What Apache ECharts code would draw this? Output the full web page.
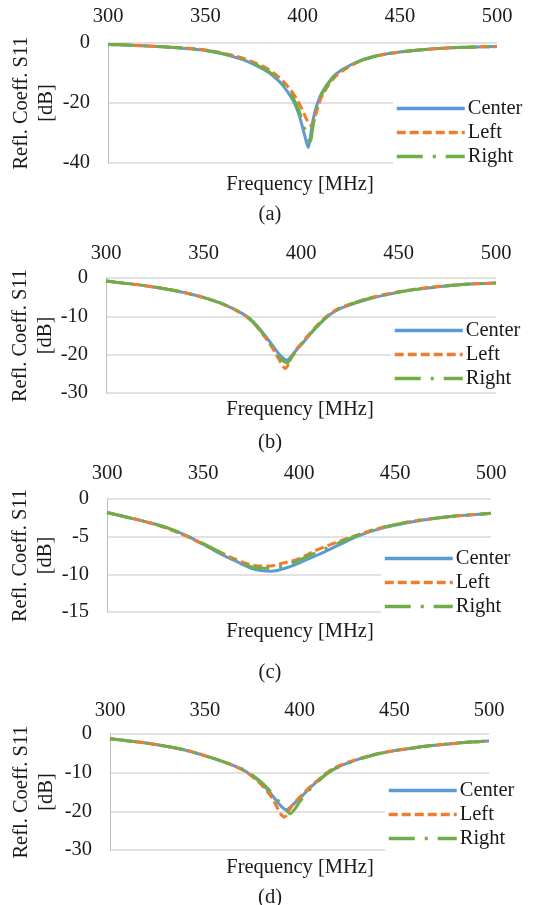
<!DOCTYPE html>
<html>
<head>
<meta charset="utf-8">
<script src="https://cdn.jsdelivr.net/npm/echarts@6/dist/echarts.min.js"></script>
<style>
html,body{margin:0;padding:0;background:#fff;}
#chart{width:541px;height:905px;}
</style>
</head>
<body>
<div id="chart"></div>
<script>
// ---- Data ----
var seriesNames = ['Center', 'Left', 'Right'];
var xTicks = [300, 350, 400, 450, 500];
var panelLabels = ['(a)', '(b)', '(c)', '(d)'];
var xTitle = 'Frequency [MHz]';
var yTitle = 'Refl. Coeff. S11\n[dB]';

// Panel (a)
var freqA = [300,310,320,330,340,350,360,370,380,385,390,395,398,400,402,403,404,405,406,407,408,410,415,420,430,440,450,460,470,480,490,500];
var centerA = [-0.5,-0.7,-1.0,-1.3,-1.8,-2.5,-3.8,-5.7,-8.8,-11.0,-14.2,-19.0,-23.5,-28.0,-33.0,-34.8,-31.5,-27.0,-24.0,-21.5,-19.6,-16.5,-11.8,-9.0,-5.8,-4.0,-3.0,-2.3,-1.8,-1.5,-1.3,-1.2];
var leftA   = [-0.5,-0.7,-1.0,-1.3,-1.7,-2.3,-3.5,-5.2,-7.9,-9.9,-12.7,-16.6,-19.8,-22.4,-25.3,-26.5,-27.3,-27.5,-25.5,-23.5,-21.2,-17.8,-12.6,-9.5,-6.0,-4.1,-3.0,-2.3,-1.8,-1.5,-1.3,-1.2];
var rightA  = [-0.5,-0.7,-1.0,-1.3,-1.8,-2.4,-3.7,-5.5,-8.5,-10.6,-13.7,-18.2,-22.2,-26.2,-30.4,-32.2,-32.8,-29.5,-25.5,-22.6,-20.3,-17.0,-12.0,-9.2,-5.9,-4.0,-3.0,-2.3,-1.8,-1.5,-1.3,-1.2];

// Panel (b)
var freqB = [300,310,320,330,340,350,360,370,375,380,385,388,390,391,392,393,394,396,398,400,405,410,415,420,430,440,450,460,470,480,490,500];
var centerB = [-0.8,-1.4,-2.0,-2.8,-3.8,-5.1,-6.8,-9.3,-11.2,-14.0,-17.3,-19.4,-20.5,-21.0,-21.3,-21.4,-21.0,-19.8,-18.6,-17.5,-14.5,-11.8,-9.5,-8.0,-6.2,-4.8,-3.7,-2.9,-2.3,-1.8,-1.5,-1.3];
var leftB   = [-0.8,-1.4,-2.0,-2.8,-3.8,-5.1,-6.8,-9.4,-11.4,-14.4,-18.0,-20.6,-22.4,-23.2,-23.6,-23.0,-22.0,-19.8,-18.3,-17.2,-14.2,-11.5,-9.3,-7.8,-6.0,-4.6,-3.6,-2.8,-2.2,-1.8,-1.5,-1.3];
var rightB  = [-0.8,-1.4,-2.0,-2.8,-3.8,-5.1,-6.8,-9.3,-11.3,-14.2,-17.6,-19.9,-21.2,-21.7,-22.0,-22.1,-21.6,-20.1,-18.6,-17.4,-14.4,-11.7,-9.4,-7.9,-6.1,-4.7,-3.7,-2.9,-2.3,-1.8,-1.5,-1.3];

// Panel (c)
var freqC = [300,310,320,330,340,350,360,370,375,380,385,390,395,400,410,420,430,440,450,460,470,480,490,500];
var centerC = [-1.8,-2.4,-3.0,-3.7,-4.7,-6.0,-7.4,-8.6,-9.2,-9.5,-9.6,-9.4,-9.0,-8.5,-7.4,-6.2,-5.0,-4.1,-3.5,-3.0,-2.6,-2.3,-2.1,-1.9];
var leftC   = [-1.8,-2.4,-3.0,-3.8,-4.8,-6.0,-7.2,-8.3,-8.7,-8.9,-8.9,-8.6,-8.3,-7.9,-6.7,-5.7,-4.8,-4.0,-3.4,-2.9,-2.6,-2.3,-2.1,-1.9];
var rightC  = [-1.8,-2.4,-3.0,-3.7,-4.7,-5.9,-7.2,-8.5,-9.0,-9.2,-9.2,-9.0,-8.6,-8.1,-7.0,-5.9,-4.9,-4.0,-3.4,-2.9,-2.6,-2.3,-2.1,-1.9];

// Panel (d)
var freqD = [300,310,320,330,340,350,360,370,375,380,385,388,390,391,392,393,394,395,396,398,400,405,410,415,420,430,440,450,460,470,480,490,500];
var centerD = [-1.2,-1.8,-2.4,-3.2,-4.2,-5.6,-7.2,-9.2,-10.8,-12.8,-15.5,-17.4,-18.5,-19.0,-19.4,-19.6,-19.4,-19.0,-18.5,-17.6,-16.8,-14.2,-12.0,-10.0,-8.6,-6.7,-5.3,-4.3,-3.6,-3.0,-2.5,-2.1,-1.8];
var leftD   = [-1.2,-1.8,-2.4,-3.2,-4.2,-5.6,-7.2,-9.3,-11.0,-13.2,-16.2,-18.8,-20.6,-21.2,-21.5,-21.1,-20.2,-19.4,-18.6,-17.4,-16.4,-13.9,-11.8,-9.8,-8.4,-6.6,-5.2,-4.3,-3.6,-3.0,-2.5,-2.1,-1.8];
var rightD  = [-1.2,-1.8,-2.4,-3.2,-4.2,-5.6,-7.2,-9.1,-10.6,-12.5,-15.0,-16.8,-17.9,-18.5,-19.1,-19.7,-20.2,-20.6,-20.3,-19.1,-17.6,-14.6,-12.2,-10.1,-8.7,-6.8,-5.3,-4.3,-3.6,-3.0,-2.5,-2.1,-1.8];

var yMins = [-40, -30, -15, -30];
var yIntervals = [20, 10, 5, 10];

// ---- Build ----
var freqs = [freqA, freqB, freqC, freqD];
var values = [[centerA, leftA, rightA],[centerB, leftB, rightB],[centerC, leftC, rightC],[centerD, leftD, rightD]];
var colors = ['#5B9BD5', '#ED7D31', '#70AD47'];
var dashTypes = ['solid', [9, 4], [26, 10, 3, 10]];
var FONT = '"Liberation Serif", "Times New Roman", serif';
var TXT = '#1a1a1a';
var FS = 20.5;

var grids = [
  {left:108, right:44, top:43, height:120, outerBoundsMode: 'none', containLabel: false},
  {left:106, right:45, top:278, height:115, outerBoundsMode: 'none', containLabel: false},
  {left:107, right:50, top:499, height:113, outerBoundsMode: 'none', containLabel: false},
  {left:110, right:52, top:734, height:116, outerBoundsMode: 'none', containLabel: false}
];
var xLabelMargins = [16, 14, 15, 13];
var yNameGaps = [49, 48, 49, 51];
var legendPos = [
  {left:393, top:96},
  {left:391, top:318},
  {left:381, top:546},
  {left:385, top:778}
];
var xTitleY = [185, 410, 632, 868];
var panelLabelY = [215, 443, 673, 898];

var xAxes = [], yAxes = [], series = [], legends = [], graphics = [];
for (var p = 0; p < 4; p++) {
  xAxes.push({
    gridIndex: p, type: 'value', position: 'top', min: 300, max: 500, interval: 50,
    axisLine: {show: false}, axisTick: {show: false}, splitLine: {show: false},
    axisLabel: {color: TXT, fontFamily: FONT, fontSize: FS, margin: xLabelMargins[p],
      formatter: function (v) { return xTicks.indexOf(v) >= 0 ? String(v) : ''; }}
  });
  yAxes.push({
    gridIndex: p, type: 'value', min: yMins[p], max: 0, interval: yIntervals[p],
    axisLine: {show: true, lineStyle: {color: '#bfbfbf', width: 1}},
    axisTick: {show: false},
    splitLine: {show: true, lineStyle: {color: '#d9d9d9', width: 1.5}},
    axisLabel: {color: TXT, fontFamily: FONT, fontSize: FS, margin: 18},
    name: yTitle, nameLocation: 'middle', nameRotate: 90, nameGap: yNameGaps[p],
    nameMoveOverlap: false,
    nameTextStyle: {color: TXT, fontFamily: FONT, fontSize: FS, lineHeight: 25}
  });
  for (var s = 0; s < 3; s++) {
    var data = [];
    for (var i = 0; i < freqs[p].length; i++) data.push([freqs[p][i], values[p][s][i]]);
    series.push({
      name: seriesNames[s], type: 'line', xAxisIndex: p, yAxisIndex: p,
      data: data, smooth: 0.35, symbol: 'none', showSymbol: false,
      lineStyle: {color: colors[s], width: 3, type: dashTypes[s]},
      itemStyle: {color: colors[s]}, z: 2 + s, animation: false
    });
  }
  legends.push({
    orient: 'vertical', left: legendPos[p].left, top: legendPos[p].top,
    data: seriesNames, itemWidth: 68, itemHeight: 14, itemGap: 3,
    backgroundColor: '#fff', padding: [2, 0, 2, 2],
    itemStyle: {opacity: 0},
    lineStyle: {width: 3.5},
    textStyle: {color: TXT, fontFamily: FONT, fontSize: FS, padding: [0,0,0,-2]},
    selectedMode: false
  });
  graphics.push({
    type: 'text',
    style: {text: xTitle, fontFamily: FONT, fontSize: FS, fill: TXT, x: 300, y: xTitleY[p], align: 'center', verticalAlign: 'middle'}
  });
  graphics.push({
    type: 'text',
    style: {text: panelLabels[p], fontFamily: FONT, fontSize: FS, fill: TXT, x: 270, y: panelLabelY[p], align: 'center', verticalAlign: 'middle'}
  });
}

var chart = echarts.init(document.getElementById('chart'), null, {renderer: 'canvas'});
chart.setOption({
  backgroundColor: '#fff',
  animation: false,
  grid: grids,
  xAxis: xAxes,
  yAxis: yAxes,
  legend: legends,
  series: series,
  graphic: graphics
});
</script>
</body>
</html>
